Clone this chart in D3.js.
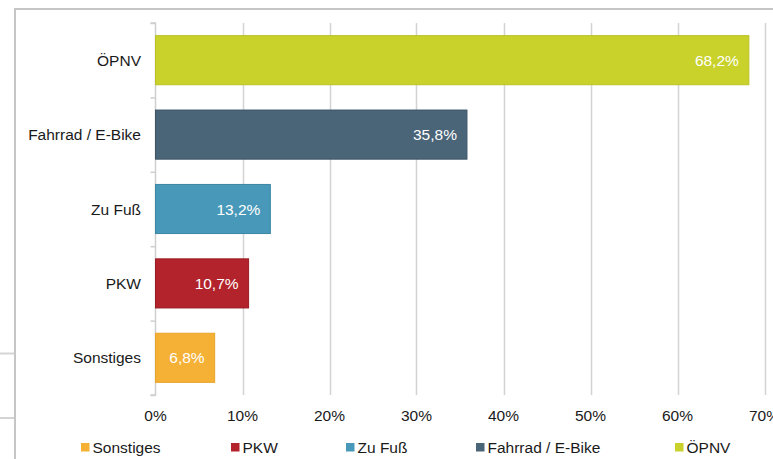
<!DOCTYPE html>
<html>
<head>
<meta charset="utf-8">
<script src="https://cdn.jsdelivr.net/npm/d3@7/dist/d3.min.js"></script>
<style>
  html, body { margin: 0; padding: 0; background: #fff; }
  svg { display: block; font-family: "Liberation Sans", Arial, sans-serif; }
</style>
</head>
<body>
<svg id="chart" width="773" height="459"></svg>
<script>
// Verkehrsmittelwahl (Anteile in Prozent)
const categories = ["ÖPNV", "Fahrrad / E-Bike", "Zu Fuß", "PKW", "Sonstiges"];
const values = [68.2, 35.8, 13.2, 10.7, 6.8];
const colors = ["#c8d22a", "#4a6478", "#4899b9", "#b2232b", "#f5b135"];
const strokes = ["#b9c225", "#3c5366", "#3a86a5", "#9a1c23", "#e8a42a"];
const tickValues = [0, 10, 20, 30, 40, 50, 60, 70];
const legendOrder = ["Sonstiges", "PKW", "Zu Fuß", "Fahrrad / E-Bike", "ÖPNV"];

const svg = d3.select("#chart");
const W = 773, H = 459;

// Chart frame
svg.append("line").attr("x1", 15).attr("x2", W).attr("y1", 9).attr("y2", 9)
  .attr("stroke", "#c6c6c6").attr("stroke-width", 2);
svg.append("line").attr("x1", 15).attr("x2", 15).attr("y1", 8).attr("y2", H)
  .attr("stroke", "#c6c6c6").attr("stroke-width", 2);
[353.5, 418].forEach(y => {
  svg.append("line").attr("x1", 0).attr("x2", 14).attr("y1", y).attr("y2", y)
    .attr("stroke", "#d4d4d4").attr("stroke-width", 2);
});

const x = d3.scaleLinear().domain([0, 70]).range([155.5, 764.5]);
const y = d3.scaleBand().domain(categories).range([23, 395]).paddingInner(0.34).paddingOuter(0.17);

// Vertical gridlines
svg.append("g").selectAll("line").data(tickValues.slice(1)).join("line")
  .attr("x1", d => Math.round(x(d)) + 0.5).attr("x2", d => Math.round(x(d)) + 0.5)
  .attr("y1", 23).attr("y2", 395)
  .attr("stroke", "#d3d3d3").attr("stroke-width", 1.5);

// Category axis
const yAxis = svg.append("g").attr("transform", "translate(155.5,0)")
  .call(d3.axisLeft(d3.scaleLinear().domain([0, 5]).range([23, 395])).ticks(5).tickSize(5).tickFormat(""));
yAxis.selectAll("line").attr("stroke", "#cfcfcf").attr("stroke-width", 1.5);
yAxis.select(".domain").attr("stroke", "#cfcfcf").attr("stroke-width", 1.5).attr("d", "M-5,23H0V395H-5");

svg.append("g").selectAll("text").data(categories).join("text")
  .attr("x", 141).attr("y", d => y(d) + y.bandwidth() / 2)
  .attr("text-anchor", "end").attr("dominant-baseline", "central")
  .attr("font-size", 15.5).attr("fill", "#1a1a1a").text(d => d);

// Bars
svg.append("g").selectAll("rect").data(categories).join("rect")
  .attr("x", x(0)).attr("y", d => y(d))
  .attr("width", (d, i) => x(values[i]) - x(0))
  .attr("height", y.bandwidth())
  .attr("fill", (d, i) => colors[i])
  .attr("stroke", (d, i) => strokes[i]).attr("stroke-width", 1);

// Value labels
svg.append("g").selectAll("text").data(categories).join("text")
  .attr("x", (d, i) => x(values[i]) - 10)
  .attr("y", d => y(d) + y.bandwidth() / 2)
  .attr("text-anchor", "end").attr("dominant-baseline", "central")
  .attr("font-size", 15.5).attr("fill", "#ffffff")
  .text((d, i) => d3.format(".1f")(values[i]).replace(".", ",") + "%");

// Value axis labels
svg.append("g").selectAll("text").data(tickValues).join("text")
  .attr("x", d => x(d)).attr("y", 415)
  .attr("text-anchor", "middle").attr("dominant-baseline", "central")
  .attr("font-size", 15.5).attr("fill", "#1a1a1a").text(d => d + "%");

// Legend
const legendX = [81, 231, 346, 476, 675];
const legend = svg.append("g").selectAll("g").data(legendOrder).join("g")
  .attr("transform", (d, i) => `translate(${legendX[i]},447)`);
legend.append("rect").attr("x", 0).attr("y", -4).attr("width", 8.5).attr("height", 8.5)
  .attr("fill", d => colors[categories.indexOf(d)]);
legend.append("text").attr("x", 11.5).attr("y", 0.5)
  .attr("dominant-baseline", "central").attr("font-size", 15.5).attr("fill", "#1a1a1a")
  .text(d => d);
</script>
</body>
</html>
